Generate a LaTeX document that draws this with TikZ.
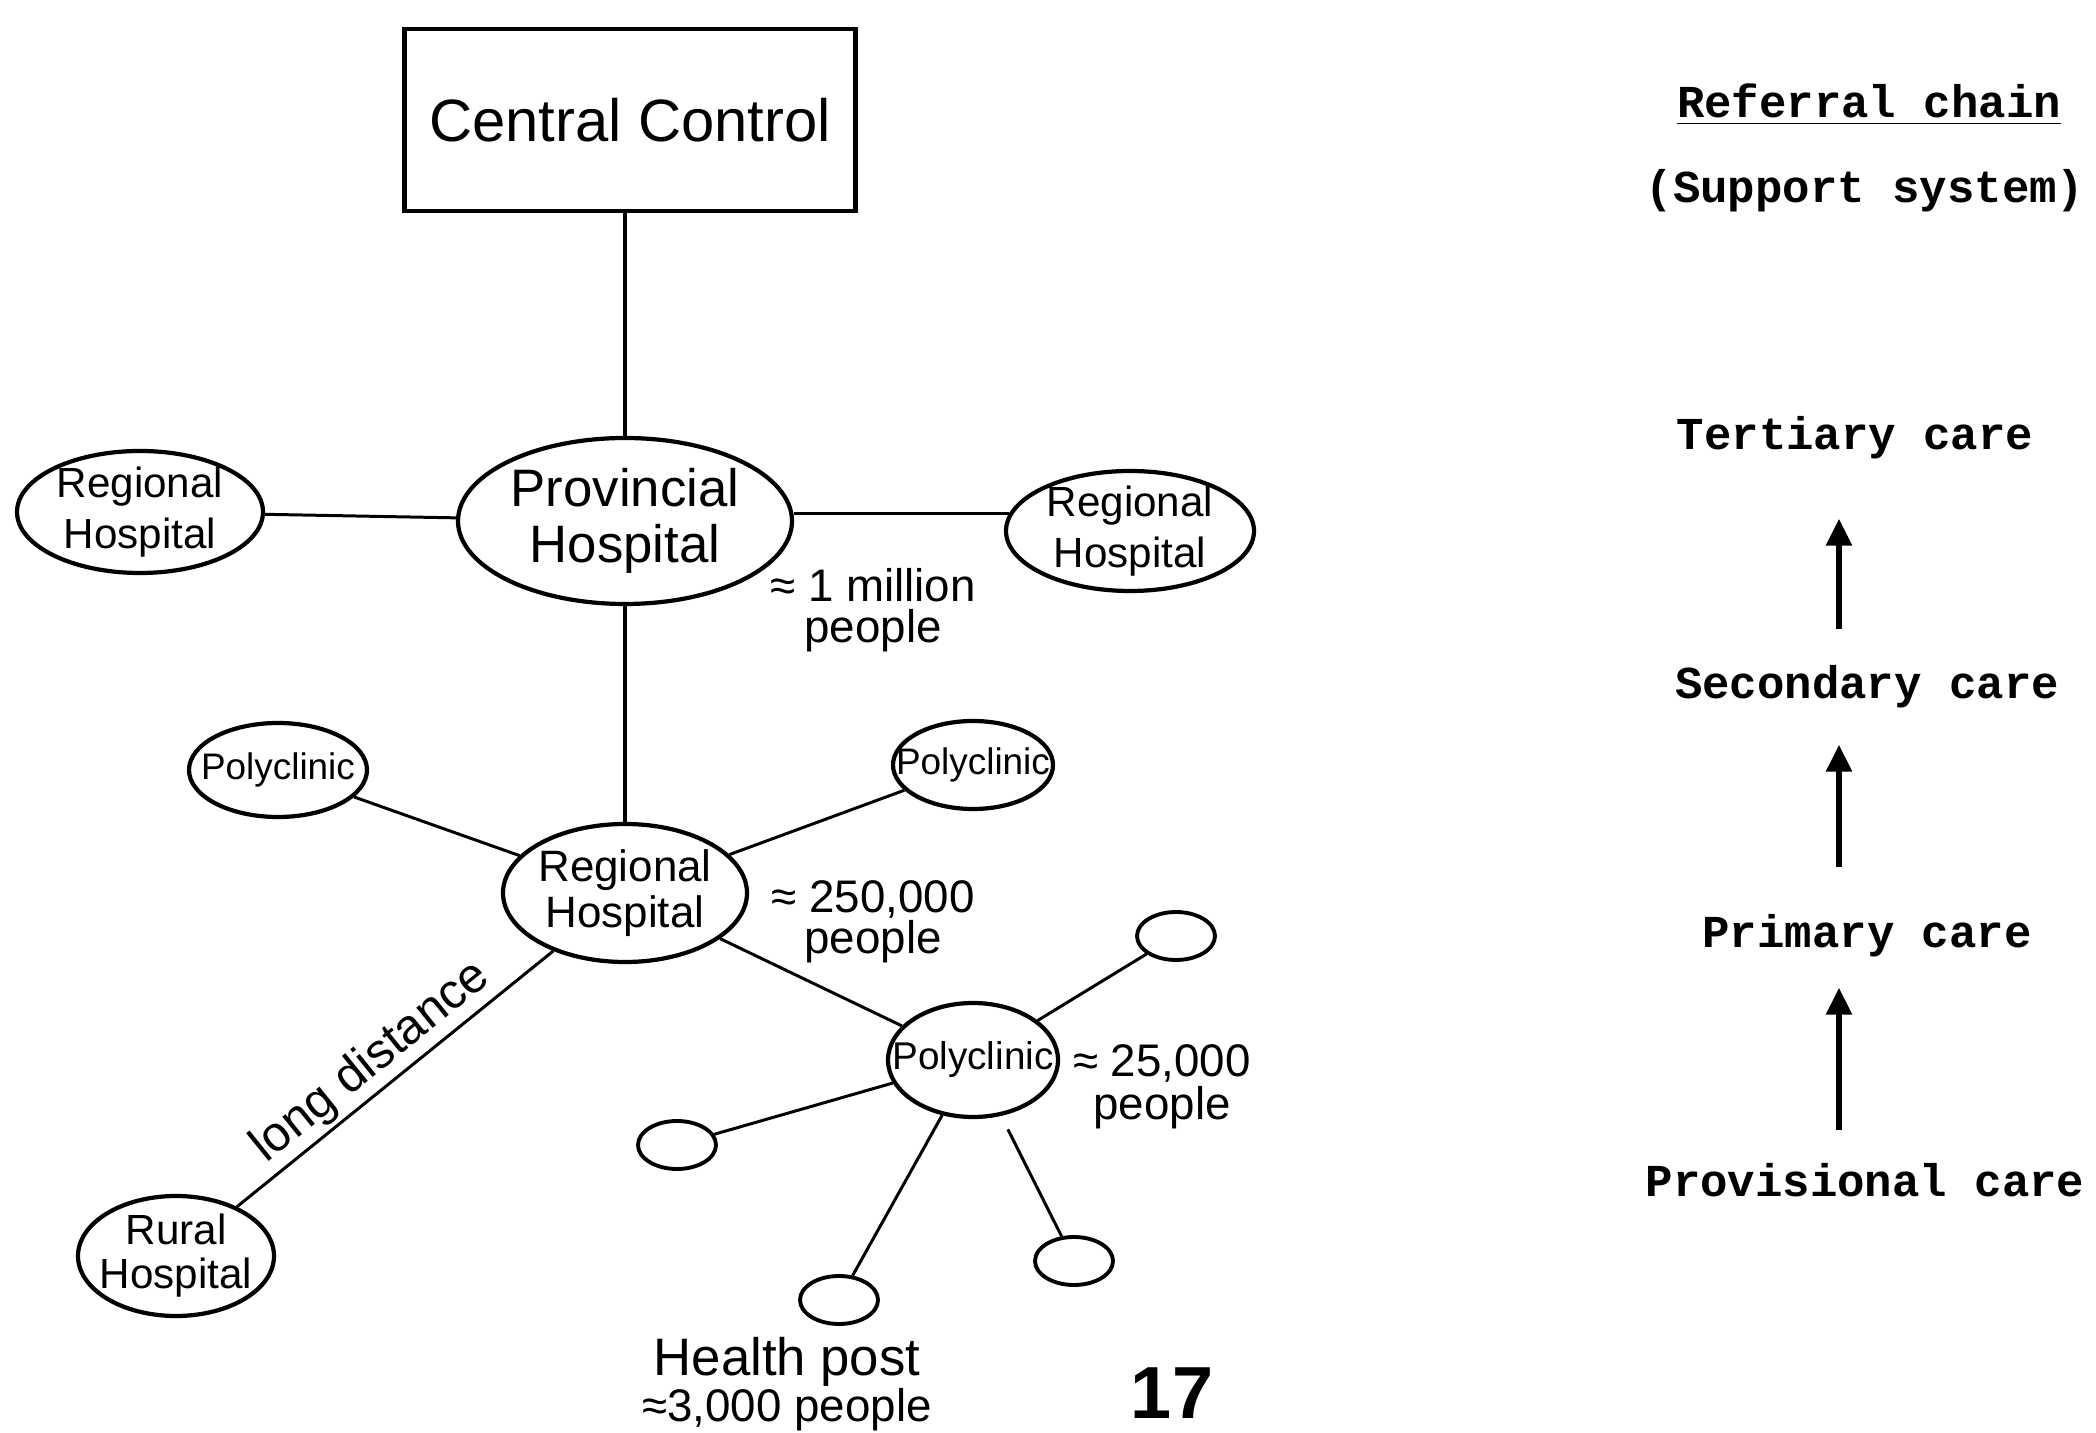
\documentclass[tikz,border=0pt]{standalone}
\usepackage{fontspec}
\setmainfont{Liberation Sans}
\newfontfamily\typewriter{Liberation Mono}
\usetikzlibrary{shapes.geometric, arrows.meta, positioning}

\tikzset{
    hosp/.style={ellipse, draw, line width=1.2pt, inner sep=0pt},
    htext/.style={align=center, inner sep=0pt},
    post/.style={ellipse, draw, line width=1.1pt, minimum width=0.78cm, minimum height=0.48cm},
    link/.style={line width=0.85pt},
    note/.style={align=center, inner sep=0pt},
    chain/.style={font=\typewriter\bfseries\fontsize{13}{15}\selectfont, inner sep=0pt, text height=0.30cm, text depth=0.08cm},
    uparrow/.style={line width=1.7pt, -{Triangle[width=0.25cm,length=0.27cm]}}
}

\begin{document}
\begin{tikzpicture}
    \useasboundingbox (0,0) rectangle (20.96,-14.33);
    % network of hospitals
    \node[draw, line width=1.4pt, minimum width=4.51cm, minimum height=1.82cm, font=\fontsize{17}{20}\selectfont] (central) at (6.30,-1.20) {Central Control};
    \node[hosp, minimum width=3.34cm, minimum height=1.66cm, label={[htext, font=\fontsize{15}{16}\selectfont]center:Provincial\\Hospital}] (prov) at (6.25,-5.21) {};
    \node[hosp, minimum width=2.46cm, minimum height=1.22cm, label={[htext, font=\fontsize{12}{14.5}\selectfont]center:Regional\\Hospital}] (regL) at (1.40,-5.12) {};
    \node[hosp, minimum width=2.48cm, minimum height=1.20cm, label={[htext, font=\fontsize{12}{14.5}\selectfont]center:Regional\\Hospital}] (regR) at (11.30,-5.31) {};
    \node[hosp, minimum width=2.44cm, minimum height=1.38cm, label={[htext, font=\fontsize{12.5}{13}\selectfont]center:Regional\\Hospital}] (reg) at (6.25,-8.93) {};
    \node[hosp, minimum width=1.78cm, minimum height=0.94cm, label={[htext, font=\fontsize{10.5}{12}\selectfont]center:Polyclinic}] (polyL) at (2.78,-7.70) {};
    \node[hosp, minimum width=1.60cm, minimum height=0.88cm, label={[htext, font=\fontsize{10.5}{12}\selectfont]center:Polyclinic}] (polyR) at (9.73,-7.65) {};
    \node[hosp, minimum width=1.70cm, minimum height=1.14cm, label={[htext, font=\fontsize{11}{12}\selectfont]center:Polyclinic}] (poly) at (9.73,-10.60) {};
    \node[hosp, minimum width=1.96cm, minimum height=1.20cm, label={[htext, font=\fontsize{12}{12.5}\selectfont]center:Rural\\Hospital}] (rural) at (1.76,-12.56) {};
    \node[post] (postA) at (11.76,-9.36) {};
    \node[post] (postB) at (6.77,-11.45) {};
    \node[post] (postC) at (8.39,-13.00) {};
    \node[post] (postD) at (10.74,-12.61) {};

    \draw[line width=1.1pt] (central.south -| prov.north) -- (prov.north);
    \draw[link] (regL) -- (prov);
    \draw[link] (regR.172 -| prov.east) -- (regR.172);
    \draw[line width=1.1pt] (prov) -- (reg);
    \draw[link] (polyL) -- (reg);
    \draw[link] (reg) -- (polyR);
    \draw[link] (reg) -- (poly);
    \draw[link] (rural) -- node[sloped, above, pos=0.48, inner sep=1pt, font=\fontsize{14}{14}\selectfont] (longlbl) {long distance} (reg);
    \draw[link] (poly) -- (postA);
    \draw[link] (poly) -- (postB);
    \draw[link] (poly) -- (postC);
    \draw[link, shorten <=0.15cm] (poly) -- (postD);

    % population figures
    \node[note, font=\fontsize{13}{11.5}\selectfont] (provpop) at (8.73,-6.10) {≈ 1 million\\people};
    \node[note, font=\fontsize{13}{11.5}\selectfont] (regpop) at (8.73,-9.22) {≈ 250,000\\people};
    \node[note, font=\fontsize{13}{10.5}\selectfont] (polypop) at (11.62,-10.87) {≈ 25,000\\people};
    \node[note, font=\fontsize{15}{13}\selectfont] (postpop) at (7.87,-13.84) {Health post\\{\fontsize{13}{13}\selectfont ≈3,000 people}};
    \node[font=\bfseries\fontsize{21}{21}\selectfont, inner sep=0pt] (page) at (11.72,-13.93) {17};

    % referral chain
    \node[chain] (refhead) at (18.69,-1.07) {\underline{Referral chain}};
    \node[chain] (support) at (18.65,-1.92) {(Support system)};
    \node[chain] (tertiary) at (18.55,-4.39) {Tertiary care};
    \node[chain] (secondary) at (18.67,-6.88) {Secondary care};
    \node[chain] (primary) at (18.67,-9.37) {Primary care};
    \node[chain] (provisional) at (18.65,-11.85) {Provisional care};
    \coordinate (shaft) at (18.39,0);
    \draw[uparrow, shorten <=0.39cm, shorten >=0.60cm] (secondary.north -| shaft) -- (tertiary.south -| shaft);
    \draw[uparrow, shorten <=0.50cm, shorten >=0.37cm] (primary.north -| shaft) -- (secondary.south -| shaft);
    \draw[uparrow, shorten <=0.35cm, shorten >=0.31cm] (provisional.north -| shaft) -- (primary.south -| shaft);
\end{tikzpicture}
\end{document}
